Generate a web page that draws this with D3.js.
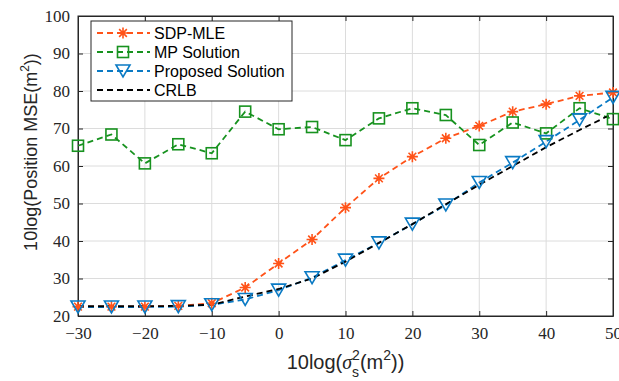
<!DOCTYPE html>
<html>
<head>
<meta charset="utf-8">
<script src="https://cdn.jsdelivr.net/npm/d3@7"></script>
<style>
  body { margin: 0; background: #fff; }
</style>
</head>
<body>
<div class="chart"></div>
<script>
var svgWidth = 619;
var svgHeight = 381;

var margin = { top: 16, right: 6, bottom: 65, left: 78 };
var width = svgWidth - margin.left - margin.right;
var height = svgHeight - margin.top - margin.bottom;

// data
var xValues = [-30, -25, -20, -15, -10, -5, 0, 5, 10, 15, 20, 25, 30, 35, 40, 45, 50];
var sdpMle = [22.5, 22.5, 22.5, 22.7, 23.4, 27.6, 34.0, 40.4, 48.9, 56.7, 62.5, 67.4, 70.7, 74.5, 76.5, 78.7, 79.6];
var mpSolution = [65.4, 68.4, 60.7, 65.8, 63.4, 74.5, 69.8, 70.4, 66.9, 72.7, 75.4, 73.6, 65.6, 71.6, 68.7, 75.4, 72.5];
var proposed = [22.4, 22.4, 22.4, 22.5, 23.0, 24.4, 26.9, 30.2, 34.9, 39.5, 44.5, 49.6, 55.6, 60.9, 66.5, 72.3, 78.3];
var crlb = [22.6, 22.6, 22.6, 22.7, 23.0, 25.2, 27.2, 30.0, 34.5, 39.5, 44.5, 49.8, 55.0, 60.0, 65.0, 69.6, 74.0];
var xTicks = [-30, -20, -10, 0, 10, 20, 30, 40, 50];
var yTicks = [20, 30, 40, 50, 60, 70, 80, 90, 100];

var series = [
  { name: "SDP-MLE", values: sdpMle, color: "#ff5319", marker: "star" },
  { name: "MP Solution", values: mpSolution, color: "#17921f", marker: "square" },
  { name: "Proposed Solution", values: proposed, color: "#0a7ac4", marker: "tri" },
  { name: "CRLB", values: crlb, color: "#000000", marker: "none" }
];

var svg = d3.select(".chart")
  .append("svg")
  .attr("width", svgWidth)
  .attr("height", svgHeight);

var chartGroup = svg.append("g")
  .attr("transform", `translate(${margin.left}, ${margin.top})`);

var xScale = d3.scaleLinear().domain([-30, 50]).range([0, width]);
var yScale = d3.scaleLinear().domain([20, 100]).range([height, 0]);

// grid
chartGroup.append("g")
  .selectAll("line")
  .data(xTicks.slice(1, -1))
  .enter()
  .append("line")
  .attr("x1", d => xScale(d)).attr("x2", d => xScale(d))
  .attr("y1", 0).attr("y2", height)
  .attr("stroke", "#dcdcdc").attr("stroke-width", 1);

chartGroup.append("g")
  .selectAll("line")
  .data(yTicks.slice(1, -1))
  .enter()
  .append("line")
  .attr("x1", 0).attr("x2", width)
  .attr("y1", d => yScale(d)).attr("y2", d => yScale(d))
  .attr("stroke", "#dcdcdc").attr("stroke-width", 1);

var fmt = d => d < 0 ? "\u2212" + Math.abs(d) : "" + d;

var bottomAxis = d3.axisBottom(xScale).tickValues(xTicks).tickFormat(fmt).tickSizeInner(-5).tickSizeOuter(0).tickPadding(11);
var leftAxis = d3.axisLeft(yScale).tickValues(yTicks).tickSizeInner(-5).tickSizeOuter(0).tickPadding(8);
var topAxis = d3.axisTop(xScale).tickValues(xTicks).tickFormat("").tickSizeInner(-5).tickSizeOuter(0);
var rightAxis = d3.axisRight(yScale).tickValues(yTicks).tickFormat("").tickSizeInner(-5).tickSizeOuter(0);

chartGroup.append("g").attr("transform", `translate(0, ${height})`).call(bottomAxis);
chartGroup.append("g").call(leftAxis);
chartGroup.append("g").call(topAxis);
chartGroup.append("g").attr("transform", `translate(${width}, 0)`).call(rightAxis);

chartGroup.selectAll(".domain").attr("stroke", "#262626");
chartGroup.selectAll(".tick line").attr("stroke", "#262626");
chartGroup.selectAll(".tick text")
  .attr("fill", "#262626")
  .attr("font-family", "Liberation Serif, DejaVu Serif, serif")
  .attr("font-size", 17);

chartGroup.append("rect")
  .attr("width", width).attr("height", height)
  .attr("fill", "none").attr("stroke", "#262626").attr("stroke-width", 1);

function drawMarker(g, type, color) {
  if (type == "star") {
    var r = 5.5;
    g.append("path")
      .attr("d", `M${-r},0L${r},0M0,${-r}L0,${r}M${-r*0.7},${-r*0.7}L${r*0.7},${r*0.7}M${-r*0.7},${r*0.7}L${r*0.7},${-r*0.7}`)
      .attr("stroke", color).attr("stroke-width", 1.6).attr("fill", "none");
  } else if (type == "square") {
    g.append("rect")
      .attr("x", -5.5).attr("y", -5.5).attr("width", 11).attr("height", 11)
      .attr("stroke", color).attr("stroke-width", 1.6).attr("fill", "none");
  } else if (type == "tri") {
    g.append("path")
      .attr("d", "M-7,-6L7,-6L0,6Z")
      .attr("stroke", color).attr("stroke-width", 1.6).attr("fill", "none");
  }
}

var line = d3.line()
  .x((d, i) => xScale(xValues[i]))
  .y(d => yScale(d));

series.forEach(function(s) {
  chartGroup.append("path")
    .datum(s.values)
    .attr("d", line)
    .attr("fill", "none")
    .attr("stroke", s.color)
    .attr("stroke-width", 1.8)
    .attr("stroke-dasharray", "6,4");
});

series.forEach(function(s) {
  if (s.marker == "none") return;
  s.values.forEach(function(v, i) {
    var g = chartGroup.append("g")
      .attr("transform", `translate(${xScale(xValues[i])}, ${yScale(v)})`);
    drawMarker(g, s.marker, s.color);
  });
});

// legend
var legend = svg.append("g").attr("transform", "translate(91, 21)");
legend.append("rect")
  .attr("width", 201).attr("height", 80)
  .attr("fill", "#fff").attr("stroke", "#262626").attr("stroke-width", 1);

series.forEach(function(s, i) {
  var row = legend.append("g").attr("transform", `translate(0, ${12 + i * 19})`);
  row.append("line")
    .attr("x1", 6).attr("x2", 59).attr("y1", 0).attr("y2", 0)
    .attr("stroke", s.color).attr("stroke-width", 1.8)
    .attr("stroke-dasharray", "6,4");
  var m = row.append("g").attr("transform", "translate(32, 0)");
  drawMarker(m, s.marker, s.color);
  row.append("text")
    .attr("x", 63).attr("y", 6)
    .attr("font-family", "Liberation Sans, Arial, sans-serif")
    .attr("font-size", 16)
    .attr("fill", "#000")
    .text(s.name);
});

// axis labels
var yLabel = svg.append("text")
  .attr("transform", "translate(37, 152) rotate(-90)")
  .attr("text-anchor", "middle")
  .attr("font-family", "Liberation Sans, Arial, sans-serif")
  .attr("font-size", 18)
  .attr("fill", "#262626");
yLabel.append("tspan").text("10log(Position MSE(m");
yLabel.append("tspan").attr("font-size", 12).attr("dy", -8).text("2");
yLabel.append("tspan").attr("dy", 8).text("))");

var xLabel = svg.append("text")
  .attr("transform", `translate(${margin.left + width / 2}, 369)`)
  .attr("text-anchor", "middle")
  .attr("font-family", "Liberation Sans, Arial, sans-serif")
  .attr("font-size", 20)
  .attr("fill", "#262626");
xLabel.append("tspan").text("10log(");
xLabel.append("tspan").attr("font-family", "Liberation Serif, serif").attr("font-style", "italic").text("\u03c3");
xLabel.append("tspan").attr("font-size", 14).attr("dy", -9).text("2");
xLabel.append("tspan").attr("font-size", 14).attr("dx", -8).attr("dy", 17).text("s");
xLabel.append("tspan").attr("dy", -8).attr("dx", 1).text("(m");
xLabel.append("tspan").attr("font-size", 14).attr("dy", -9).text("2");
xLabel.append("tspan").attr("dy", 9).text("))");
</script>
</body>
</html>
